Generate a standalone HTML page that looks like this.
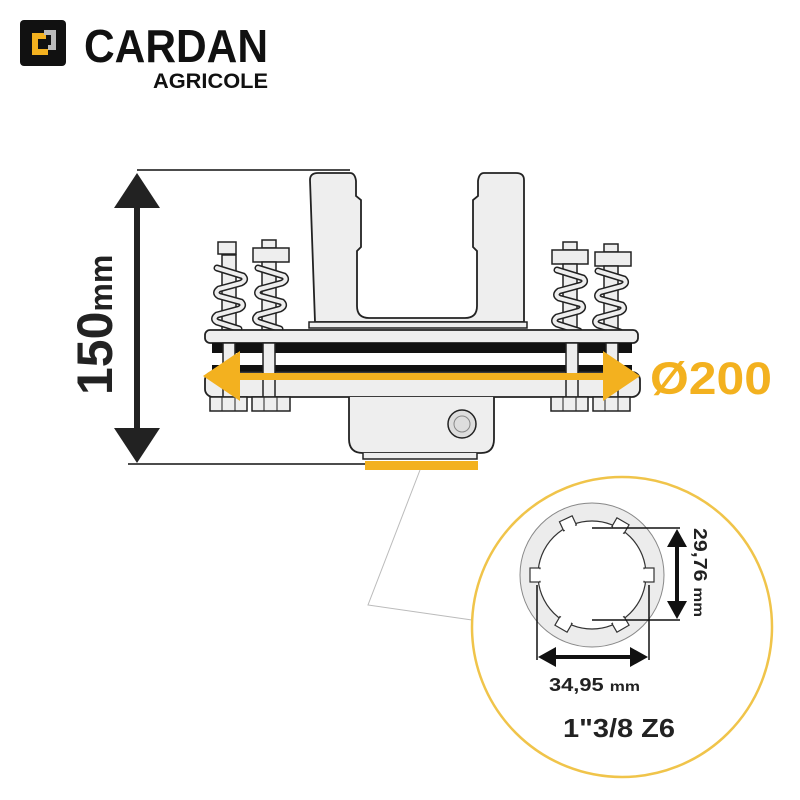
<!DOCTYPE html>
<html><head><meta charset="utf-8"><style>
html,body{margin:0;padding:0;background:#fff;}
svg{display:block}
text{font-family:"Liberation Sans",sans-serif;font-weight:bold}
</style></head><body>
<svg width="800" height="800" viewBox="0 0 800 800" xmlns="http://www.w3.org/2000/svg">
<defs>
<g id="tooth"><rect x="585" y="513" width="14" height="10" fill="#fff" stroke="#333" stroke-width="1.2"/><rect x="586.2" y="514.2" width="11.6" height="12" fill="#fff"/></g>
<path id="spr" d="M217 268 l26 8 q4 4-2 7 l-22 6 q-5 4 0 7 l22 6 q4 4-2 7 l-22 6 q-5 4 0 7 l22 7"/>
</defs>
<!-- logo -->
<rect x="20" y="20" width="46" height="46" rx="4" fill="#111"/>
<path d="M32 33 h14 v6 h-8 v10 h10 v6 h-16 z" fill="#f3b11f"/>
<path d="M44 30 h12 v20 h-8 v-5 h3 v-10 h-7 z" fill="#bbb"/>
<text x="84" y="62" font-size="46" fill="#111" textLength="184" lengthAdjust="spacingAndGlyphs">CARDAN</text>
<text x="153" y="88" font-size="21" fill="#111" textLength="115" lengthAdjust="spacingAndGlyphs">AGRICOLE</text>

<!-- height dimension -->
<line x1="137" y1="170" x2="350" y2="170" stroke="#111" stroke-width="1.5"/>
<line x1="128" y1="464" x2="365" y2="464" stroke="#111" stroke-width="1.5"/>
<line x1="137" y1="200" x2="137" y2="435" stroke="#222" stroke-width="6"/>
<polygon points="137,173 114,208 160,208" fill="#222"/>
<polygon points="137,463 114,428 160,428" fill="#222"/>
<text transform="translate(112,395) rotate(-90)" font-size="50" fill="#222">150<tspan font-size="32">mm</tspan></text>

<!-- springs -->
<g stroke="#222" stroke-width="1.5" fill="#eee">
<rect x="218" y="242" width="18" height="12"/><rect x="222" y="255" width="14" height="75"/>
<rect x="262" y="240" width="14" height="8"/><rect x="253" y="248" width="36" height="14"/><rect x="262" y="262" width="14" height="68"/>
<rect x="563" y="242" width="14" height="8"/><rect x="552" y="250" width="36" height="14"/><rect x="563" y="264" width="14" height="66"/>
<rect x="604" y="244" width="14" height="8"/><rect x="595" y="252" width="36" height="14"/><rect x="604" y="266" width="14" height="64"/>
</g>
<g fill="none" stroke-linecap="round">
<g><use href="#spr" stroke="#222" stroke-width="7"/><use href="#spr" stroke="#eee" stroke-width="4"/></g>
<g transform="translate(41,0)"><use href="#spr" stroke="#222" stroke-width="7"/><use href="#spr" stroke="#eee" stroke-width="4"/></g>
<g transform="translate(340,2)"><use href="#spr" stroke="#222" stroke-width="7"/><use href="#spr" stroke="#eee" stroke-width="4"/></g>
<g transform="translate(381,3)"><use href="#spr" stroke="#222" stroke-width="7"/><use href="#spr" stroke="#eee" stroke-width="4"/></g>
</g>

<!-- yoke -->
<path d="M310 180 q0-7 8-7 h32 q5 0 6 8 v15 l5 4 v47 l-4 4 v55 q0 12 12 12 h96 q12 0 12-12 v-55 l-4-4 v-47 l5-4 v-15 q1-8 6-8 h32 q8 0 8 7 v142 h-209 z" fill="#eee" stroke="#222" stroke-width="1.8"/>
<rect x="309" y="322" width="218" height="6" fill="#eee" stroke="#222" stroke-width="1.5"/>

<!-- plates -->
<rect x="205" y="330" width="433" height="13" rx="5" fill="#eee" stroke="#222" stroke-width="1.8"/>
<rect x="212" y="343" width="420" height="10" fill="#111"/>
<rect x="212" y="353" width="420" height="12" fill="#fff"/>
<rect x="212" y="365" width="420" height="8" fill="#111"/>
<rect x="205" y="372" width="435" height="25" rx="8" fill="#eee" stroke="#222" stroke-width="1.8"/>
<g fill="#eee" stroke="#222" stroke-width="1.5">
<rect x="223" y="343" width="12" height="54"/><rect x="263" y="343" width="12" height="54"/>
<rect x="566" y="343" width="12" height="54"/><rect x="606" y="343" width="12" height="54"/>
<rect x="210" y="397" width="37" height="14"/><rect x="252" y="397" width="38" height="14"/>
<rect x="551" y="397" width="37" height="14"/><rect x="593" y="397" width="37" height="14"/>
</g>
<g stroke="#222" stroke-width="1"><line x1="222" y1="397" x2="222" y2="411"/><line x1="235" y1="397" x2="235" y2="411"/><line x1="264" y1="397" x2="264" y2="411"/><line x1="277" y1="397" x2="277" y2="411"/><line x1="563" y1="397" x2="563" y2="411"/><line x1="576" y1="397" x2="576" y2="411"/><line x1="605" y1="397" x2="605" y2="411"/><line x1="618" y1="397" x2="618" y2="411"/></g>

<!-- hub -->
<path d="M349 397 v42 q0 14 14 14 h118 q13 0 13-14 v-42" fill="#eee" stroke="#222" stroke-width="1.8"/>
<path d="M363 453 v6 h114 v-6" fill="#eee" stroke="#222" stroke-width="1.5"/>
<rect x="365" y="461" width="113" height="9" fill="#f3b11f"/>
<circle cx="462" cy="424" r="14" fill="#ddd" stroke="#222" stroke-width="1.5"/>
<circle cx="462" cy="424" r="8" fill="#ddd" stroke="#888" stroke-width="1"/>

<!-- orange arrow -->
<rect x="230" y="373" width="385" height="7" fill="#f3b11f"/>
<polygon points="203,376 240,351 240,401" fill="#f3b11f"/>
<polygon points="640,376 603,351 603,401" fill="#f3b11f"/>
<text x="650" y="394" font-size="45" fill="#f3b11f" textLength="122" lengthAdjust="spacingAndGlyphs">Ø200</text>

<!-- leader -->
<polyline points="420,470 368,605 472,620" fill="none" stroke="#bbb" stroke-width="1"/>

<!-- detail circle -->
<circle cx="622" cy="627" r="150" fill="#fff" stroke="#f0c44a" stroke-width="2.5"/>
<circle cx="592" cy="575" r="72" fill="#ececec" stroke="#888" stroke-width="1"/>
<circle cx="592" cy="575" r="54" fill="#fff" stroke="#333" stroke-width="1.2"/>
<use href="#tooth" transform="rotate(-25 592 575)"/>
<use href="#tooth" transform="rotate(30 592 575)"/>
<use href="#tooth" transform="rotate(90 592 575)"/>
<use href="#tooth" transform="rotate(150 592 575)"/>
<use href="#tooth" transform="rotate(210 592 575)"/>
<use href="#tooth" transform="rotate(270 592 575)"/>
<g stroke="#111" stroke-width="1.5" fill="none">
<line x1="592" y1="528" x2="680" y2="528"/><line x1="592" y1="620" x2="680" y2="620"/>
<line x1="537" y1="585" x2="537" y2="660"/><line x1="649" y1="585" x2="649" y2="660"/>
</g>
<line x1="677" y1="545" x2="677" y2="603" stroke="#111" stroke-width="4"/>
<polygon points="677,529 667,547 687,547" fill="#111"/>
<polygon points="677,619 667,601 687,601" fill="#111"/>
<line x1="552" y1="657" x2="634" y2="657" stroke="#111" stroke-width="4"/>
<polygon points="538,657 556,647 556,667" fill="#111"/>
<polygon points="648,657 630,647 630,667" fill="#111"/>
<text transform="translate(694,528) rotate(90)" font-size="18" fill="#222" textLength="89" lengthAdjust="spacingAndGlyphs">29,76 <tspan font-size="14">mm</tspan></text>
<text x="549" y="691" font-size="18" fill="#222" textLength="91" lengthAdjust="spacingAndGlyphs">34,95 <tspan font-size="14">mm</tspan></text>
<text x="563" y="737" font-size="26" fill="#222" textLength="112" lengthAdjust="spacingAndGlyphs">1"3/8 Z6</text>
</svg>
</body></html>
